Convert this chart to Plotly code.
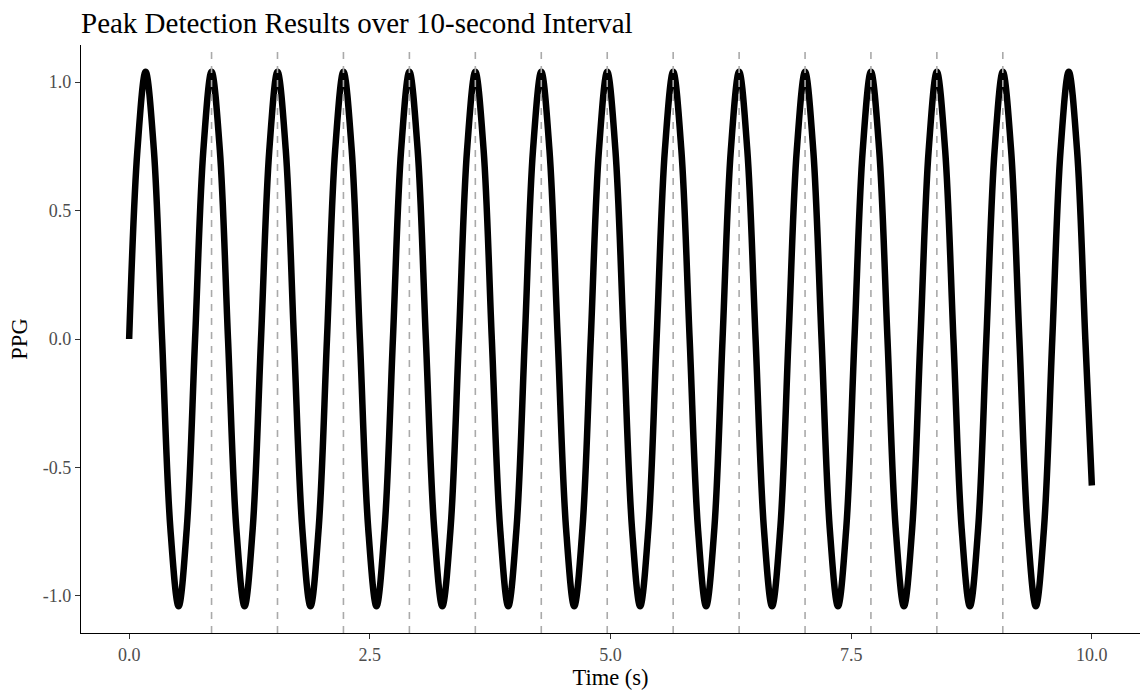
import plotly.graph_objects as go

# PPG trace samples (seconds, normalised amplitude)
time_s = [
    0.000, 0.086, 0.171, 0.257, 0.342, 0.428, 0.514, 0.599,
    0.685, 0.771, 0.856, 0.942, 1.027, 1.113, 1.199, 1.284,
    1.370, 1.456, 1.541, 1.627, 1.712, 1.798, 1.884, 1.969,
    2.055, 2.140, 2.226, 2.312, 2.397, 2.483, 2.569, 2.654,
    2.740, 2.825, 2.911, 2.997, 3.082, 3.168, 3.253, 3.339,
    3.425, 3.510, 3.596, 3.682, 3.767, 3.853, 3.938, 4.024,
    4.110, 4.195, 4.281, 4.366, 4.452, 4.538, 4.623, 4.709,
    4.795, 4.880, 4.966, 5.051, 5.137, 5.223, 5.308, 5.394,
    5.479, 5.565, 5.651, 5.736, 5.822, 5.908, 5.993, 6.079,
    6.164, 6.250, 6.336, 6.421, 6.507, 6.593, 6.678, 6.764,
    6.849, 6.935, 7.021, 7.106, 7.192, 7.277, 7.363, 7.449,
    7.534, 7.620, 7.705, 7.791, 7.877, 7.962, 8.048, 8.134,
    8.219, 8.305, 8.390, 8.476, 8.562, 8.647, 8.733, 8.819,
    8.904, 8.990, 9.075, 9.161, 9.247, 9.332, 9.418, 9.503,
    9.589, 9.675, 9.760, 9.846, 9.932, 10.000,
]

ppg = [
    0.0, 0.735, 1.04, 0.735, 0.0, -0.735, -1.04, -0.735,
    0.0, 0.735, 1.04, 0.735, 0.0, -0.735, -1.04, -0.735,
    0.0, 0.735, 1.04, 0.735, 0.0, -0.735, -1.04, -0.735,
    0.0, 0.735, 1.04, 0.735, 0.0, -0.735, -1.04, -0.735,
    0.0, 0.735, 1.04, 0.735, 0.0, -0.735, -1.04, -0.735,
    0.0, 0.735, 1.04, 0.735, 0.0, -0.735, -1.04, -0.735,
    0.0, 0.735, 1.04, 0.735, 0.0, -0.735, -1.04, -0.735,
    0.0, 0.735, 1.04, 0.735, 0.0, -0.735, -1.04, -0.735,
    0.0, 0.735, 1.04, 0.735, 0.0, -0.735, -1.04, -0.735,
    0.0, 0.735, 1.04, 0.735, 0.0, -0.735, -1.04, -0.735,
    0.0, 0.735, 1.04, 0.735, 0.0, -0.735, -1.04, -0.735,
    0.0, 0.735, 1.04, 0.735, 0.0, -0.735, -1.04, -0.735,
    0.0, 0.735, 1.04, 0.735, 0.0, -0.735, -1.04, -0.735,
    0.0, 0.735, 1.04, 0.735, 0.0, -0.735, -1.04, -0.735,
    0.0, 0.735, 1.04, 0.735, 0.0, -0.57,
]

# Peaks reported by the detector (edge peaks excluded)
detected_peaks = [
    0.856, 1.541, 2.226, 2.911, 3.596, 4.281, 4.966,
    5.651, 6.336, 7.021, 7.705, 8.390, 9.075,
]

x_ticks = [0.0, 2.5, 5.0, 7.5, 10.0]
x_tick_text = ["0.0", "2.5", "5.0", "7.5", "10.0"]
y_ticks = [-1.0, -0.5, 0.0, 0.5, 1.0]
y_tick_text = ["-1.0", "-0.5", "0.0", "0.5", "1.0"]

FONT = "Liberation Serif, Times New Roman, serif"

fig = go.Figure()
fig.add_trace(go.Scatter(
    x=time_s, y=ppg, mode="lines",
    line=dict(color="black", width=6.5, shape="spline", smoothing=1.0),
    showlegend=False, hoverinfo="x+y",
))

for t in detected_peaks:
    fig.add_shape(
        type="line", xref="x", yref="paper", x0=t, x1=t, y0=0, y1=1,
        line=dict(color="#aaaaaa", width=1.6, dash="7px,7px"),
        layer="above",
    )

axis_common = dict(
    showgrid=False, zeroline=False, showline=True,
    linecolor="black", linewidth=1.1,
    ticks="outside", ticklen=5, tickwidth=1.1, tickcolor="#333333",
    tickfont=dict(family=FONT, size=18, color="#4d4d4d"),
)

fig.update_layout(
    width=1141, height=691,
    margin=dict(l=81, r=1, t=45, b=58),
    paper_bgcolor="white", plot_bgcolor="white",
    font=dict(family=FONT, color="black"),
    title=dict(
        text="Peak Detection Results over 10-second Interval",
        font=dict(family=FONT, size=29, color="black"),
        x=81 / 1141, xref="container", xanchor="left",
        y=1 - 23 / 691, yref="container", yanchor="middle",
    ),
    xaxis=dict(
        range=[-0.5, 10.5], tickvals=x_ticks, ticktext=x_tick_text,
        title=dict(text="Time (s)", font=dict(family=FONT, size=22.5, color="black"), standoff=4),
        **axis_common,
    ),
    yaxis=dict(
        range=[-1.144, 1.144], tickvals=y_ticks, ticktext=y_tick_text,
        title=dict(text="PPG", font=dict(family=FONT, size=22.5, color="black"), standoff=8),
        **axis_common,
    ),
)

fig.write_html("out.html")
